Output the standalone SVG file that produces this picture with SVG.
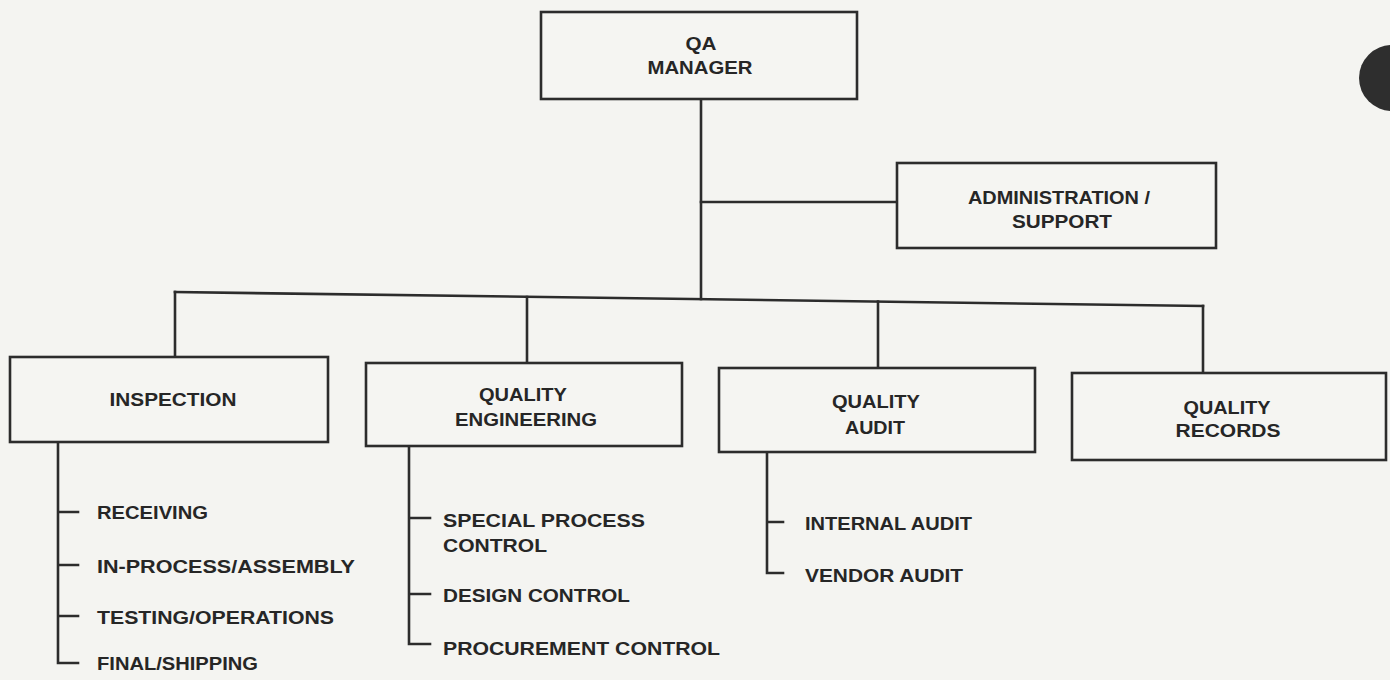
<svg xmlns="http://www.w3.org/2000/svg" width="1390" height="680" viewBox="0 0 1390 680">
<style>
.box{fill:#f5f5f2;stroke:#2c2c2c;stroke-width:2.6}
.ln{fill:none;stroke:#2c2c2c;stroke-width:2.6;stroke-linecap:square}
text{font-family:"Liberation Sans",Arial,sans-serif;font-weight:bold;font-size:18px;fill:#262626}
.c{text-anchor:middle}
</style>
<rect x="0" y="0" width="1390" height="680" fill="#f4f4f1"/>
<circle cx="1392" cy="78" r="33" fill="#2e2e2e"/>
<g id="connectors">
<path class="ln" d="M701,99 V299"/>
<path class="ln" d="M701,202 H897"/>
<path class="ln" d="M175,292 L1203,306"/>
<path class="ln" d="M175,292 V357"/>
<path class="ln" d="M527,297 V363"/>
<path class="ln" d="M878,301.5 V368"/>
<path class="ln" d="M1203,306 V373"/>
<path class="ln" d="M58,442 V663 H78 M58,512 H78 M58,565 H78 M58,616 H78"/>
<path class="ln" d="M409,446 V644 H430 M409,518 H430 M409,594 H430"/>
<path class="ln" d="M767,452 V573 H783 M767,522 H783"/>
</g>
<g id="qa-manager">
<rect class="box" x="541" y="12" width="316" height="87"/>
<text class="c" x="701" y="50" textLength="31" lengthAdjust="spacingAndGlyphs">QA</text>
<text class="c" x="700" y="74" textLength="105" lengthAdjust="spacingAndGlyphs">MANAGER</text>
</g>
<g id="admin-support">
<rect class="box" x="897" y="163" width="319" height="85"/>
<text class="c" x="1059" y="204" textLength="182" lengthAdjust="spacingAndGlyphs">ADMINISTRATION /</text>
<text class="c" x="1062" y="228" textLength="100" lengthAdjust="spacingAndGlyphs">SUPPORT</text>
</g>
<g id="inspection">
<rect class="box" x="10" y="357" width="318" height="85"/>
<text class="c" x="173" y="406" textLength="127" lengthAdjust="spacingAndGlyphs">INSPECTION</text>
<text x="97" y="519" textLength="111" lengthAdjust="spacingAndGlyphs">RECEIVING</text>
<text x="97" y="573" textLength="258" lengthAdjust="spacingAndGlyphs">IN-PROCESS/ASSEMBLY</text>
<text x="97" y="623.5" textLength="237" lengthAdjust="spacingAndGlyphs">TESTING/OPERATIONS</text>
<text x="97" y="670" textLength="161" lengthAdjust="spacingAndGlyphs">FINAL/SHIPPING</text>
</g>
<g id="quality-engineering">
<rect class="box" x="366" y="363" width="316" height="83"/>
<text class="c" x="523" y="401" textLength="88" lengthAdjust="spacingAndGlyphs">QUALITY</text>
<text class="c" x="526" y="426" textLength="142" lengthAdjust="spacingAndGlyphs">ENGINEERING</text>
<text x="443" y="527" textLength="202" lengthAdjust="spacingAndGlyphs">SPECIAL PROCESS</text>
<text x="443" y="552" textLength="104" lengthAdjust="spacingAndGlyphs">CONTROL</text>
<text x="443" y="602" textLength="187" lengthAdjust="spacingAndGlyphs">DESIGN CONTROL</text>
<text x="443" y="655" textLength="277" lengthAdjust="spacingAndGlyphs">PROCUREMENT CONTROL</text>
</g>
<g id="quality-audit">
<rect class="box" x="719" y="368" width="316" height="84"/>
<text class="c" x="876" y="408" textLength="88" lengthAdjust="spacingAndGlyphs">QUALITY</text>
<text class="c" x="875" y="434" textLength="60" lengthAdjust="spacingAndGlyphs">AUDIT</text>
<text x="805" y="530" textLength="167" lengthAdjust="spacingAndGlyphs">INTERNAL AUDIT</text>
<text x="805" y="582" textLength="158" lengthAdjust="spacingAndGlyphs">VENDOR AUDIT</text>
</g>
<g id="quality-records">
<rect class="box" x="1072" y="373" width="314" height="87"/>
<text class="c" x="1227" y="414" textLength="87" lengthAdjust="spacingAndGlyphs">QUALITY</text>
<text class="c" x="1228" y="437" textLength="105" lengthAdjust="spacingAndGlyphs">RECORDS</text>
</g>
</svg>
